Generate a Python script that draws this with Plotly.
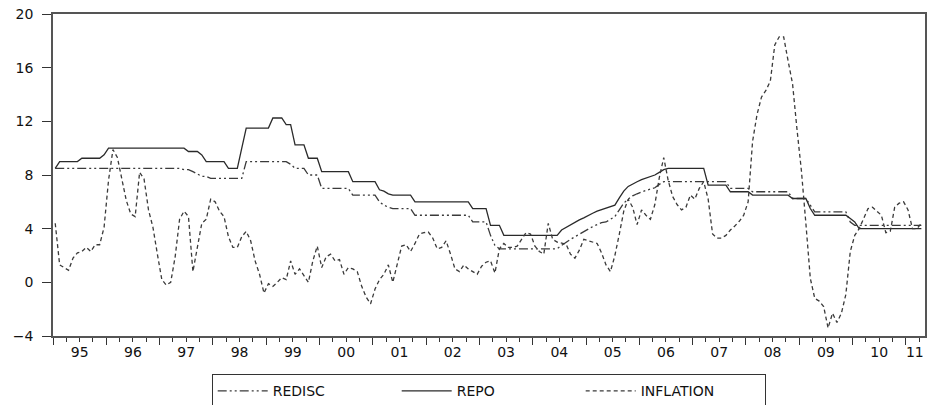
import plotly.graph_objects as go

# Monthly data, 1995M01 .. 2011M04
start_year = 1995
inflation_by_year = {
    1995: [4.4, 1.3, 1.1, 0.9, 1.8, 2.2, 2.3, 2.6, 2.3, 2.8, 2.8, 4.1],
    1996: [7.6, 9.9, 9.3, 7.6, 6.1, 5.1, 4.9, 8.2, 7.7, 5.4, 4.1, 2.1],
    1997: [0.2, -0.2, 0.0, 1.9, 4.7, 5.3, 4.9, 0.8, 2.6, 4.4, 4.7, 6.2],
    1998: [6.0, 5.3, 4.9, 3.4, 2.6, 2.6, 3.4, 3.8, 3.1, 1.6, 0.6, -0.8],
    1999: [-0.1, -0.3, 0.0, 0.35, 0.2, 1.6, 0.6, 1.0, 0.5, 0.0, 1.6, 2.7],
    2000: [1.1, 1.9, 2.1, 1.6, 1.7, 0.6, 1.1, 1.0, 0.8, -0.3, -1.1, -1.6],
    2001: [-0.5, 0.2, 0.6, 1.3, 0.0, 1.3, 2.7, 2.8, 2.3, 2.9, 3.6, 3.7],
    2002: [3.75, 3.3, 2.5, 2.6, 3.1, 2.1, 1.0, 0.8, 1.3, 1.0, 0.8, 0.6],
    2003: [1.2, 1.5, 1.6, 0.7, 2.5, 2.9, 2.6, 2.6, 2.7, 3.2, 3.7, 3.6],
    2004: [2.7, 2.3, 2.1, 4.4, 3.2, 3.0, 2.95, 2.85, 2.1, 1.8, 2.4, 3.2],
    2005: [3.1, 3.0, 2.9, 2.2, 1.3, 0.8, 2.0, 3.6, 5.3, 6.2, 5.6, 4.3],
    2006: [5.4, 5.0, 4.7, 5.8, 7.8, 9.3, 7.6, 6.4, 5.8, 5.4, 5.6, 6.5],
    2007: [6.2, 7.0, 7.5, 6.2, 3.6, 3.3, 3.3, 3.5, 3.9, 4.2, 4.55, 5.0],
    2008: [6.0, 10.5, 12.5, 13.8, 14.3, 15.0, 17.7, 18.3, 18.3, 16.5, 14.8, 11.4],
    2009: [8.3, 4.4, 0.3, -1.2, -1.4, -1.8, -3.4, -2.3, -3.0, -2.3, -0.9, 2.3],
    2010: [3.5, 4.0, 4.7, 5.5, 5.6, 5.3, 5.0, 3.7, 3.8, 5.6, 5.9, 6.0],
    2011: [5.4, 4.0, 4.0, 4.4],
}
repo_by_year = {
    1995: [8.5, 9.0, 9.0, 9.0, 9.0, 9.0, 9.25, 9.25, 9.25, 9.25, 9.25, 9.5],
    1996: [10.0, 10.0, 10.0, 10.0, 10.0, 10.0, 10.0, 10.0, 10.0, 10.0, 10.0, 10.0],
    1997: [10.0, 10.0, 10.0, 10.0, 10.0, 10.0, 9.75, 9.75, 9.75, 9.5, 9.0, 9.0],
    1998: [9.0, 9.0, 9.0, 8.5, 8.5, 8.5, 10.0, 11.5, 11.5, 11.5, 11.5, 11.5],
    1999: [11.5, 12.25, 12.25, 12.25, 11.75, 11.75, 10.25, 10.25, 10.25, 9.25, 9.25, 9.25],
    2000: [8.25, 8.25, 8.25, 8.25, 8.25, 8.25, 8.25, 7.5, 7.5, 7.5, 7.5, 7.5],
    2001: [7.5, 6.9, 6.8, 6.6, 6.5, 6.5, 6.5, 6.5, 6.5, 6.0, 6.0, 6.0],
    2002: [6.0, 6.0, 6.0, 6.0, 6.0, 6.0, 6.0, 6.0, 6.0, 6.0, 5.5, 5.5],
    2003: [5.5, 5.5, 4.25, 4.25, 4.25, 3.5, 3.5, 3.5, 3.5, 3.5, 3.5, 3.5],
    2004: [3.5, 3.5, 3.5, 3.5, 3.5, 3.5, 3.9, 4.1, 4.3, 4.5, 4.65, 4.8],
    2005: [5.0, 5.15, 5.3, 5.4, 5.5, 5.6, 5.75, 6.3, 6.8, 7.15, 7.35, 7.5],
    2006: [7.65, 7.75, 7.85, 8.0, 8.2, 8.4, 8.5, 8.5, 8.5, 8.5, 8.5, 8.5],
    2007: [8.5, 8.5, 8.5, 7.25, 7.25, 7.25, 7.25, 7.25, 6.75, 6.75, 6.75, 6.75],
    2008: [6.75, 6.5, 6.5, 6.5, 6.5, 6.5, 6.5, 6.5, 6.5, 6.5, 6.25, 6.25],
    2009: [6.25, 6.25, 5.5, 5.0, 5.0, 5.0, 5.0, 5.0, 5.0, 5.0, 5.0, 4.75],
    2010: [4.5, 4.0, 4.0, 4.0, 4.0, 4.0, 4.0, 4.0, 4.0, 4.0, 4.0, 4.0],
    2011: [4.0, 4.0, 4.0, 4.0],
}
redisc_by_year = {
    1995: [8.5, 8.5, 8.5, 8.5, 8.5, 8.5, 8.5, 8.5, 8.5, 8.5, 8.5, 8.5],
    1996: [8.5, 8.5, 8.5, 8.5, 8.5, 8.5, 8.5, 8.5, 8.5, 8.5, 8.5, 8.5],
    1997: [8.5, 8.5, 8.5, 8.5, 8.5, 8.4, 8.4, 8.25, 8.1, 7.9, 7.9, 7.75],
    1998: [7.75, 7.75, 7.75, 7.75, 7.75, 7.75, 7.75, 9.0, 9.0, 9.0, 9.0, 9.0],
    1999: [9.0, 9.0, 9.0, 9.0, 9.0, 8.8, 8.5, 8.5, 8.5, 8.0, 8.0, 8.0],
    2000: [7.0, 7.0, 7.0, 7.0, 7.0, 7.0, 7.0, 6.5, 6.5, 6.5, 6.5, 6.5],
    2001: [6.5, 6.0, 5.75, 5.6, 5.5, 5.5, 5.5, 5.5, 5.5, 5.0, 5.0, 5.0],
    2002: [5.0, 5.0, 5.0, 5.0, 5.0, 5.0, 5.0, 5.0, 5.0, 5.0, 4.5, 4.5],
    2003: [4.5, 4.5, 3.5, 2.75, 2.5, 2.5, 2.5, 2.5, 2.5, 2.5, 2.5, 2.5],
    2004: [2.5, 2.5, 2.5, 2.5, 2.5, 2.5, 2.75, 3.0, 3.2, 3.4, 3.6, 3.75],
    2005: [4.0, 4.15, 4.3, 4.45, 4.5, 4.7, 4.9, 5.4, 5.9, 6.2, 6.45, 6.6],
    2006: [6.75, 6.85, 6.95, 7.05, 7.3, 7.5, 7.5, 7.5, 7.5, 7.5, 7.5, 7.5],
    2007: [7.5, 7.5, 7.5, 7.5, 7.5, 7.5, 7.5, 7.5, 7.0, 7.0, 7.0, 7.0],
    2008: [7.0, 6.75, 6.75, 6.75, 6.75, 6.75, 6.75, 6.75, 6.75, 6.75, 6.25, 6.25],
    2009: [6.25, 6.25, 5.75, 5.25, 5.25, 5.25, 5.25, 5.25, 5.25, 5.25, 5.25, 4.5],
    2010: [4.25, 4.25, 4.25, 4.25, 4.25, 4.25, 4.25, 4.25, 4.25, 4.25, 4.25, 4.25],
    2011: [4.25, 4.25, 4.25, 4.25],
}
year_labels = ["95", "96", "97", "98", "99", "00", "01", "02", "03",
               "04", "05", "06", "07", "08", "09", "10", "11"]
y_ticks = [-4, 0, 4, 8, 12, 16, 20]


def flatten(d):
    out = []
    for yr in sorted(d):
        out.extend(d[yr])
    return out


inflation = flatten(inflation_by_year)
repo = flatten(repo_by_year)
redisc = flatten(redisc_by_year)
n = len(inflation)
x = [start_year + (i + 0.5) / 12 for i in range(n)]

x_range = [1995.0, 2011.36]

fig = go.Figure()
fig.add_trace(go.Scatter(x=x, y=redisc, name="REDISC", mode="lines",
                         line=dict(color="#3a3a3a", width=1.3,
                                   dash="9px,3px,2px,3px,2px,3px")))
fig.add_trace(go.Scatter(x=x, y=repo, name="REPO", mode="lines",
                         line=dict(color="#2a2a2a", width=1.3)))
fig.add_trace(go.Scatter(x=x, y=inflation, name="INFLATION", mode="lines",
                         line=dict(color="#3a3a3a", width=1.3, dash="4px,3px")))

# invisible trace on the label axis
label_pos = [yr + 0.5 for yr in range(1995, 2011)] + [2011.17]
fig.add_trace(go.Scatter(x=[label_pos[0]], y=[None], xaxis="x2",
                         showlegend=False, hoverinfo="skip"))

fig.update_layout(
    width=932, height=405,
    margin=dict(l=53, r=7, t=14, b=69, autoexpand=False),
    plot_bgcolor="white", paper_bgcolor="white",
    font=dict(family="DejaVu Sans", size=14, color="#111"),
    xaxis=dict(
        range=x_range, showgrid=False, zeroline=False, automargin=False,
        tickvals=list(range(1995, 2012)), showticklabels=False,
        ticks="outside", ticklen=7, tickwidth=1.2, tickcolor="#333",
        minor=dict(dtick=0.25, tick0=1995, ticks="outside", ticklen=4,
                   tickwidth=1, tickcolor="#333", showgrid=False),
        showline=True, linecolor="#555", linewidth=1.5, mirror=True,
    ),
    xaxis2=dict(
        range=x_range, overlaying="x", anchor="y", side="bottom",
        showgrid=False, zeroline=False, showline=False, automargin=False,
        tickvals=label_pos, ticktext=year_labels,
        ticks="outside", ticklen=3, tickcolor="rgba(0,0,0,0)",
        tickfont=dict(family="DejaVu Sans", size=14, color="#111"),
    ),
    yaxis=dict(
        range=[-4, 20], tickvals=y_ticks, showgrid=False, zeroline=False,
        automargin=False,
        ticks="outside", ticklen=9, tickwidth=1.2, tickcolor="#333",
        showline=True, linecolor="#555", linewidth=1.5, mirror=True,
        ticklabelstandoff=6,
        tickfont=dict(family="DejaVu Sans", size=14, color="#111"),
    ),
    legend=dict(
        orientation="h", x=0.5, xanchor="center",
        yref="paper", y=-0.118, yanchor="top",
        bordercolor="#333", borderwidth=1.2, bgcolor="white",
        font=dict(family="DejaVu Sans", size=14, color="#111"),
        entrywidth=119, entrywidthmode="pixels", itemwidth=50,
        tracegroupgap=0,
    ),
)

fig.write_html(
    "out.html",
    config={"displayModeBar": False},
    post_script="document.body.style.margin='0';"
                "document.body.style.overflow='hidden';",
)
